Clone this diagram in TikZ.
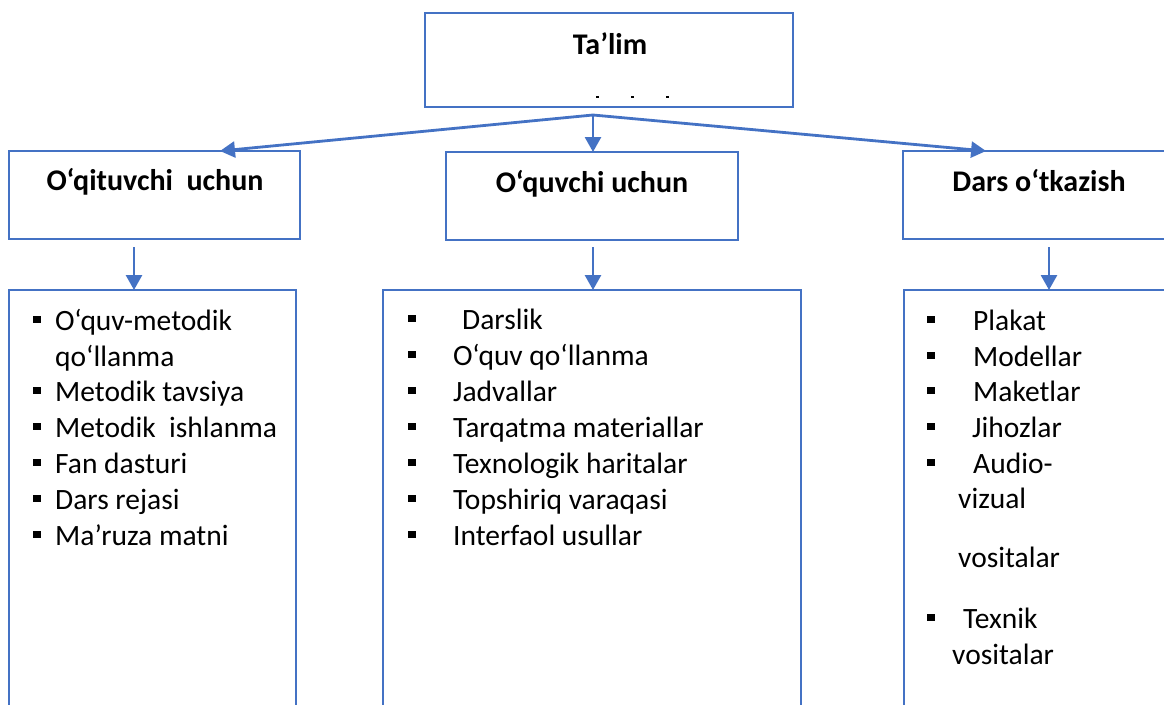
\documentclass[tikz,border=0pt]{standalone}
\usepackage{fontspec}
\setmainfont{Carlito}
\usetikzlibrary{arrows.meta,calc}
\definecolor{wblue}{HTML}{4472C4}
\begin{document}
\begin{tikzpicture}[x=1pt,y=-1pt,
  box/.style={draw=wblue,line width=2.8pt,inner sep=0pt,outer sep=0pt},
  arr/.style={draw=wblue,line width=2.8pt,-{Triangle[length=15pt,width=16pt]}},
  head/.style={font=\fontsize{30}{36}\selectfont\bfseries,anchor=base,inner sep=0pt},
  item/.style={font=\fontsize{29.5}{36}\selectfont,anchor=base west,inner sep=0pt},
  bul/.style={fill=black}]
\useasboundingbox (0,0) rectangle (1164,704);
\clip (0,0) rectangle (1164,704);
% boxes
\node[box,minimum width=368pt,minimum height=94pt] (top) at (609,60) {};
\node[box,minimum width=291pt,minimum height=88pt] (lh) at (154.5,195) {};
\node[box,minimum width=292pt,minimum height=88pt] (mh) at (592,196) {};
\node[box,minimum width=277pt,minimum height=88pt] (rh) at (1041.5,195) {};
\node[box,minimum width=287pt,minimum height=430pt] (ll) at (152.5,505) {};
\node[box,minimum width=418pt,minimum height=430pt] (ml) at (592,505) {};
\node[box,minimum width=276pt,minimum height=430pt] (rl) at (1042,505) {};
% headings
\node[head] (tt) at (610,54) {Ta’lim};
\node[head] (lht) at (155,190) {O‘qituvchi\ \ uchun};
\node[head] (mht) at (592,192) {O‘quvchi uchun};
\node[head] (rht) at (1039,191) {Dars o‘tkazish};
% clipped marks under the title
\draw[line width=1.4pt] (596,97) -- (599,97) (631,97) -- (634,97) (666,97) -- (669,97);
% connectors
\coordinate (split) at (593,115);
\draw[arr] (split) -- ($(lh.north west)!0.725!(lh.north east)$);
\draw[arr] (split) -- (mh.north -| split);
\draw[arr] (split) -- ($(rh.north west)!0.30!(rh.north east)$);
\coordinate (a1) at (134,247);
\coordinate (a2) at (593,247);
\coordinate (a3) at (1049,247);
\draw[arr] (a1) -- (ll.north -| a1);
\draw[arr] (a2) -- (ml.north -| a2);
\draw[arr] (a3) -- (rl.north -| a3);
% left list
\foreach \b in {330,401,437,473,509,545} \fill[bul] (33,\b-14) rectangle (41,\b-7);
\node[item] (l1) at (55,330) {O‘quv-metodik};
\node[item] (l1b) at (55,366) {qo‘llanma};
\node[item] (l2) at (55,401) {Metodik tavsiya};
\node[item] (l3) at (55,437) {Metodik\ \ ishlanma};
\node[item] (l4) at (55,473) {Fan dasturi};
\node[item] (l5) at (55,509) {Dars rejasi};
\node[item] (l6) at (55,545) {Ma’ruza matni};
% middle list
\foreach \b in {329,365,401,437,473,509,545} \fill[bul] (408,\b-14) rectangle (416,\b-7);
\node[item] (m1) at (462,329) {Darslik};
\node[item] (m2) at (453,365) {O‘quv qo‘llanma};
\node[item] (m3) at (453,401) {Jadvallar};
\node[item] (m4) at (453,437) {Tarqatma materiallar};
\node[item] (m5) at (453,473) {Texnologik haritalar};
\node[item] (m6) at (453,509) {Topshiriq varaqasi};
\node[item] (m7) at (453,545) {Interfaol usullar};
% right list
\foreach \b in {330,366,401,437,473,628} \fill[bul] (927,\b-14) rectangle (935,\b-7);
\node[item] (r1) at (973,330) {Plakat};
\node[item] (r2) at (973,366) {Modellar};
\node[item] (r3) at (973,401) {Maketlar};
\node[item] (r4) at (972,437) {Jihozlar};
\node[item] (r5) at (973,473) {Audio-};
\node[item] (r5b) at (958,508) {vizual};
\node[item] (r5c) at (958,567) {vositalar};
\node[item] (r6) at (963,628) {Texnik};
\node[item] (r6b) at (952,664) {vositalar};
\end{tikzpicture}
\end{document}
